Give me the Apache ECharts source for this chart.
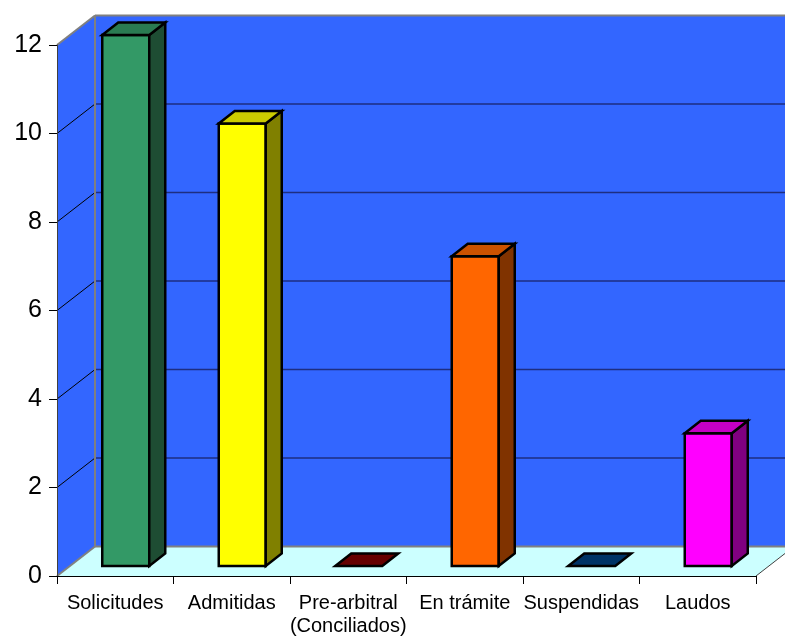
<!DOCTYPE html>
<html>
<head>
<meta charset="utf-8">
<script src="https://cdn.jsdelivr.net/npm/echarts@6/dist/echarts.min.js"></script>
<style>html,body{margin:0;padding:0;background:#fff}#c{width:785px;height:644px}</style>
</head>
<body>
<div id="c"></div>
<script>
// ---- data ----
const categories = ['Solicitudes', 'Admitidas', 'Pre-arbitral\n(Conciliados)', 'En trámite', 'Suspendidas', 'Laudos'];
const values = [12, 10, 0, 7, 0, 3];
const frontColors = ['#339966', '#FFFF00', '#660000', '#FF6600', '#003366', '#FF00FF'];
const sideColors = ['#1E4D33', '#808000', '#330000', '#803300', '#001A33', '#800080'];
const topColors = ['#2A7B52', '#CCCC00', '#660000', '#CC5200', '#003366', '#C400C4'];
const yMin = 0, yMax = 12, yStep = 2;

// ---- styling constants ----
const WALL_D = [38, -29.5];   // depth of chart box in pixels
const BAR_SHIFT = [10.5, -10]; // front plane of bars
const BAR_D = [16, -12.5];    // bar depth
const BAR_HALF = 23.5;

const chart = echarts.init(document.getElementById('c'), null, {renderer: 'canvas'});

function wallsRender(params, api) {
  const cs = params.coordSys;
  const x0 = cs.x, x1 = cs.x + cs.width, yt = cs.y, yb = cs.y + cs.height;
  const dx = WALL_D[0], dy = WALL_D[1];
  const ch = [];
  const poly = (pts, fill) => ({type: 'polygon', shape: {points: pts}, style: {fill: fill, stroke: null}});
  const line = (a, b, c, w) => ({type: 'line', shape: {x1: a[0], y1: a[1], x2: b[0], y2: b[1]}, style: {stroke: c, lineWidth: w}});
  ch.push(poly([[x0, yt], [x0 + dx, yt + dy], [x0 + dx, yb + dy], [x0, yb]], '#3366FF'));
  ch.push(poly([[x0 + dx, yt + dy], [x1 + dx + 50, yt + dy], [x1 + dx + 50, yb + dy], [x0 + dx, yb + dy]], '#3366FF'));
  ch.push(poly([[x0, yb], [x1, yb], [x1 + dx, yb + dy], [x0 + dx, yb + dy]], '#CCFFFF'));
  for (let v = yMin + yStep; v < yMax; v += yStep) {
    const y = api.coord([0, v])[1];
    ch.push(line([x0 + dx, y + dy], [x1 + dx + 50, y + dy], '#1E2E80', 1.5));
    ch.push(line([x0, y], [x0 + dx, y + dy], '#000000', 1));
  }
  // borders
  ch.push(line([x0 + dx, yt + dy], [x1 + dx + 50, yt + dy], '#808080', 2));
  ch.push(line([x0 + dx, yb + dy], [x1 + dx, yb + dy], '#808080', 2));
  ch.push(line([x0 + dx, yt + dy], [x0 + dx, yb + dy], '#808080', 2));
  ch.push(line([x0, yt], [x0 + dx, yt + dy], '#808080', 2));
  ch.push(line([x0, yb], [x0 + dx, yb + dy], '#808080', 2));
  ch.push(line([x1, yb], [x1 + dx, yb + dy], '#404040', 1));
  return {type: 'group', children: ch};
}

function barRender(params, api) {
  const i = api.value(0), v = api.value(1);
  const p0 = api.coord([i, 0]);
  const p1 = api.coord([i, v]);
  const cx = p0[0] + BAR_SHIFT[0];
  const yb = p0[1] + BAR_SHIFT[1];
  const yt = p1[1] + BAR_SHIFT[1];
  const xl = cx - BAR_HALF, xr = cx + BAR_HALF;
  const dx = BAR_D[0], dy = BAR_D[1];
  const st = (fill) => ({fill: fill, stroke: '#000', lineWidth: 2.5, lineJoin: 'miter'});
  const ch = [];
  if (v > 0) {
    ch.push({type: 'polygon', shape: {points: [[xl, yt], [xr, yt], [xr, yb], [xl, yb]]}, style: st(frontColors[i])});
    ch.push({type: 'polygon', shape: {points: [[xr, yt], [xr + dx, yt + dy], [xr + dx, yb + dy], [xr, yb]]}, style: st(sideColors[i])});
    ch.push({type: 'polygon', shape: {points: [[xl, yt], [xl + dx, yt + dy], [xr + dx, yt + dy], [xr, yt]]}, style: st(topColors[i])});
  } else {
    ch.push({type: 'polygon', shape: {points: [[xl, yt], [xl + dx, yt + dy], [xr + dx, yt + dy], [xr, yt]]}, style: st(topColors[i])});
  }
  return {type: 'group', children: ch};
}

const font = 'Arial, "Liberation Sans", sans-serif';
chart.setOption({
  animation: false,
  grid: {left: 57, right: 29, top: 45, bottom: 68, containLabel: false},
  xAxis: {
    type: 'category', data: categories, boundaryGap: true,
    axisLine: {show: true, lineStyle: {color: '#000', width: 1}},
    axisTick: {show: true, length: 8, lineStyle: {color: '#000'}},
    axisLabel: {interval: 0, color: '#000', fontSize: 20, fontFamily: font, margin: 16, lineHeight: 23},
    splitLine: {show: false}
  },
  yAxis: {
    type: 'value', min: yMin, max: yMax, interval: yStep,
    axisLine: {show: true, lineStyle: {color: '#404040', width: 1}},
    axisTick: {show: true, length: 8, lineStyle: {color: '#000'}},
    axisLabel: {color: '#000', fontSize: 25, fontFamily: font, margin: 15},
    splitLine: {show: false}
  },
  series: [
    {type: 'custom', z: -1, clip: false, renderItem: wallsRender, data: [[0, 0]], silent: true},
    {type: 'custom', z: 3, clip: false, renderItem: barRender,
     data: values.map((v, i) => [i, v]), silent: true}
  ]
});
</script>
</body>
</html>
